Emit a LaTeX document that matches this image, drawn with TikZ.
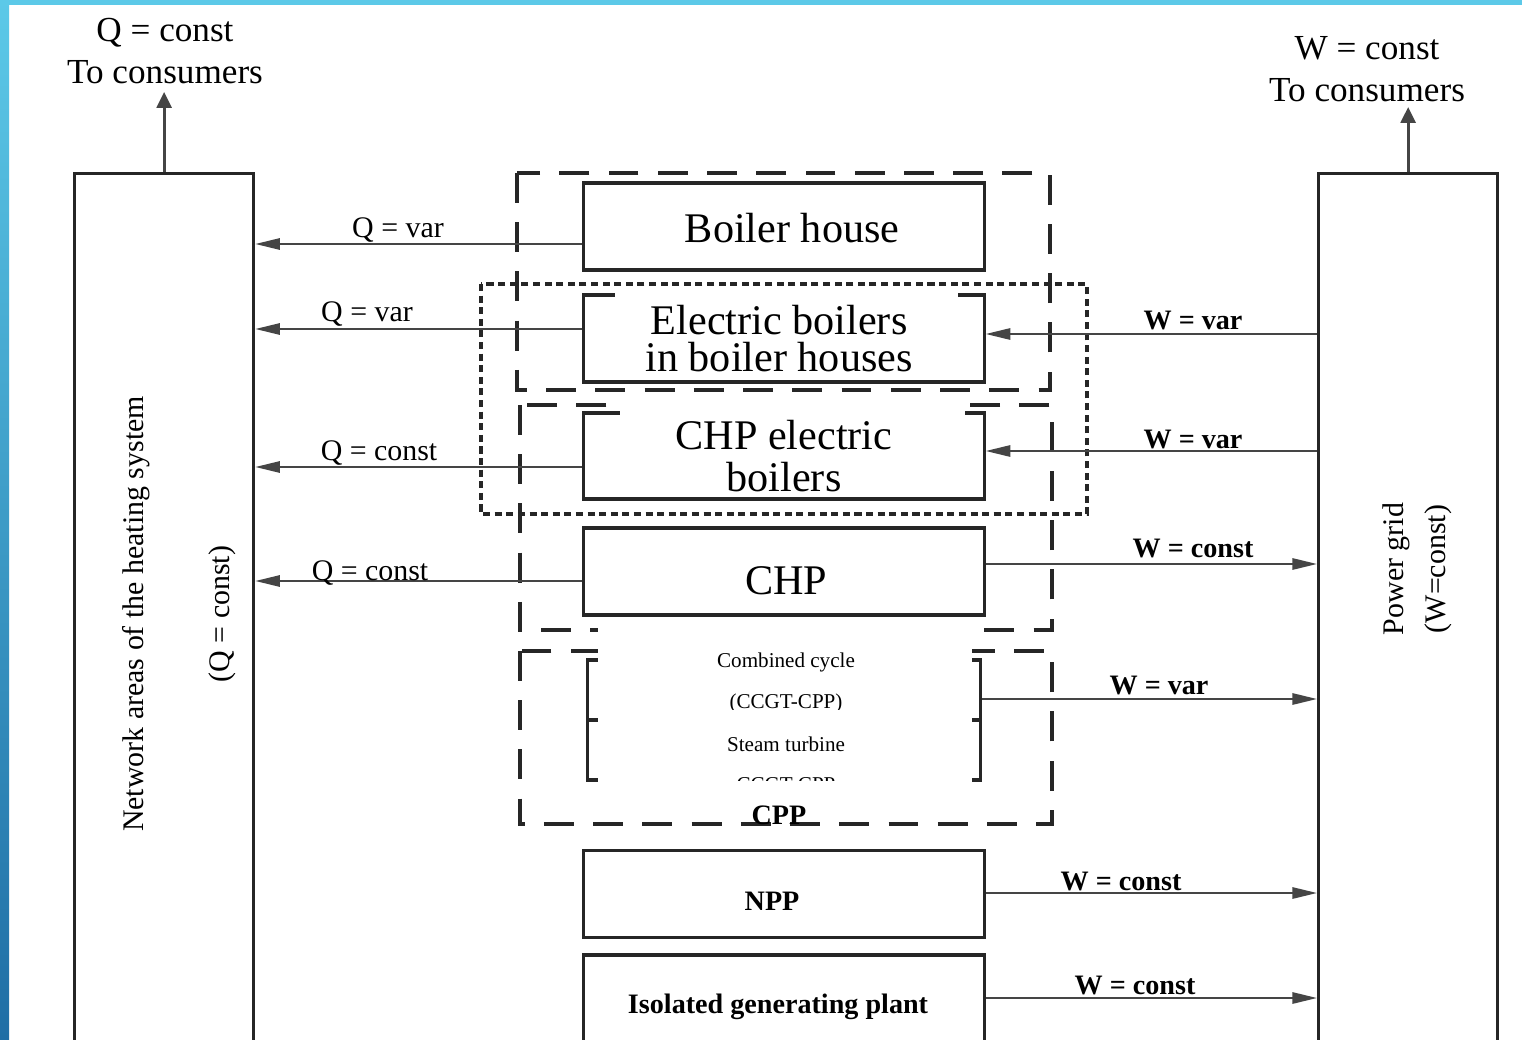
\documentclass[tikz,border=0pt]{standalone}
\usepackage{fontspec}
\setmainfont{Liberation Serif}
\usetikzlibrary{positioning,arrows.meta}
\definecolor{cborde}{HTML}{262626}
\definecolor{cflecha}{HTML}{454545}
\definecolor{cceleste}{HTML}{5CC9E8}
\definecolor{cazul}{HTML}{1F6EA5}
\tikzset{
  planta/.style={rectangle, draw=cborde, line width=0.9pt, minimum width=4cm,
    minimum height=0.87cm, inner sep=0pt, align=center},
  columna/.style={rectangle, draw=cborde, line width=0.9pt, minimum width=1.79cm,
    minimum height=9cm, inner sep=0pt, anchor=north west},
  flecha/.style={-{Triangle[length=7pt,width=3.2pt]}, line width=0.6pt, draw=cflecha},
  subida/.style={-{Triangle[length=4.5pt,width=4.2pt]}, line width=0.9pt, draw=cflecha},
  grupo/.style={draw=cborde, line width=1pt, dash pattern=on 8.5pt off 5.5pt},
  grupop/.style={draw=cborde, line width=1.4pt, dash pattern=on 2pt off 1.3pt},
  grande/.style={font=\fontsize{12}{12}\selectfont},
  etq/.style={font=\fontsize{8.5}{10}\selectfont, inner sep=1pt},
  etqw/.style={font=\fontsize{8}{10}\selectfont\bfseries, inner sep=1pt},
  arriba/.style={font=\fontsize{10}{12}\selectfont, align=center, inner sep=1pt},
  chica/.style={font=\fontsize{6}{7}\selectfont, inner sep=1pt},
}
\begin{document}
\begin{tikzpicture}[x=0.01cm, y=-0.01cm]
  \clip (0,0) rectangle (1522,1040);
  \fill[white] (0,0) rectangle (1522,1040);
  \fill[cceleste] (0,0) rectangle (1522,5);
  \shade[top color=cceleste, bottom color=cazul] (0,0) rectangle (9,1040);

  % columnas laterales
  \node[columna] (red) at (73,172) {};
  \node[columna] (grid) at (1317,172) {};
  \node[etq, rotate=90] (tred) at (136,614) {Network areas of the heating system};
  \node[etq, rotate=90] (tqc) at (222,614) {(Q = const)};
  \node[etq, rotate=90] (tgrid) at (1396,569) {Power grid};
  \node[etq, rotate=90] (twc) at (1438,569) {(W=const)};

  % hacia consumidores
  \node[arriba] (qcons) at (165,51) {Q = const\\To consumers};
  \node[arriba] (wcons) at (1367,69) {W = const\\To consumers};
  \draw[subida] (red.north) -- (red.north |- 0,92);
  \draw[subida] (grid.north) -- (grid.north |- 0,107);

  % grupos
  \draw[grupo] (517,173) rectangle (1050,390);
  \draw[grupo] (520,405) rectangle (1052,630);
  \draw[grupop] (481,284) rectangle (1087,514);
  \draw[grupo] (520,651) rectangle (1052,824);

  % plantas
  \node[planta, label={[grande, xshift=2.3pt, yshift=-0.5pt]center:Boiler house}] (bh) at (784,226.5) {};
  \node[planta, label={[grande, align=center, font=\fontsize{12}{10.5}\selectfont, xshift=-1.4pt]center:Electric boilers\\in boiler houses}] (eb) at (784,338.5) {};
  \node[planta, grande, minimum height=0.86cm] (cheb) at (784,456)
    {CHP electric\\boilers};
  \node[planta, label={[grande, xshift=0.6pt, yshift=-2.5pt]center:CHP}] (chp) at (784,571.5) {};
  \node[planta, minimum width=3.92cm, minimum height=1.2cm] (ccgt) at (784,720) {};
  \draw[draw=cborde, line width=0.9pt] (ccgt.west) -- (ccgt.east);
  \node[planta, label={[etqw, xshift=-3.4pt, yshift=-2.1pt]center:NPP}] (npp) at (784,894) {};
  \node[planta, label={[etqw, xshift=-1.7pt, yshift=-2.4pt]center:Isolated generating plant}] (igp) at (784,998.5) {};

  % recortes
  \fill[white] (615,290) rectangle (958,300);
  \fill[white] (620,401) rectangle (965,418);
  \fill[white] (598,628) rectangle (972,812);
  \node[chica] (cc1) at (786,662) {Combined cycle};
  \begin{scope}
    \clip (598,680) rectangle (972,709);
    \node[chica] (cc2) at (786,703) {(CCGT-CPP)};
  \end{scope}
  \node[chica] (cc3) at (786,744) {Steam turbine};
  \begin{scope}
    \clip (598,760) rectangle (972,780);
    \node[chica] (cc4) at (786,785) {CCGT-CPP};
  \end{scope}
  \node[etqw] (cpp) at (779,815) {CPP};

  % calor
  \draw[flecha] (bh.west |- 0,244) -- (red.east |- 0,244);
  \draw[flecha] (eb.west |- 0,329) -- (red.east |- 0,329);
  \draw[flecha] (cheb.west |- 0,467) -- (red.east |- 0,467);
  \draw[flecha] (chp.west |- 0,581) -- (red.east |- 0,581);
  \node[etq] (q1) at (398,230) {Q = var};
  \node[etq] (q2) at (367,314) {Q = var};
  \node[etq] (q3) at (379,453) {Q = const};
  \node[etq] (q4) at (370,573) {Q = const};

  % electricidad
  \draw[flecha] (grid.west |- 0,334) -- (eb.east |- 0,334);
  \draw[flecha] (grid.west |- 0,451) -- (cheb.east |- 0,451);
  \draw[flecha] (chp.east |- 0,564) -- (grid.west |- 0,564);
  \draw[flecha] (ccgt.east |- 0,699) -- (grid.west |- 0,699);
  \draw[flecha] (npp.east |- 0,893) -- (grid.west |- 0,893);
  \draw[flecha] (igp.east |- 0,998) -- (grid.west |- 0,998);
  \node[etqw] (w1) at (1193,321) {W = var};
  \node[etqw] (w2) at (1193,439) {W = var};
  \node[etqw] (w3) at (1193,548) {W = const};
  \node[etqw] (w4) at (1159,685) {W = var};
  \node[etqw] (w5) at (1121,881) {W = const};
  \node[etqw] (w6) at (1135,985) {W = const};
\end{tikzpicture}
\end{document}
